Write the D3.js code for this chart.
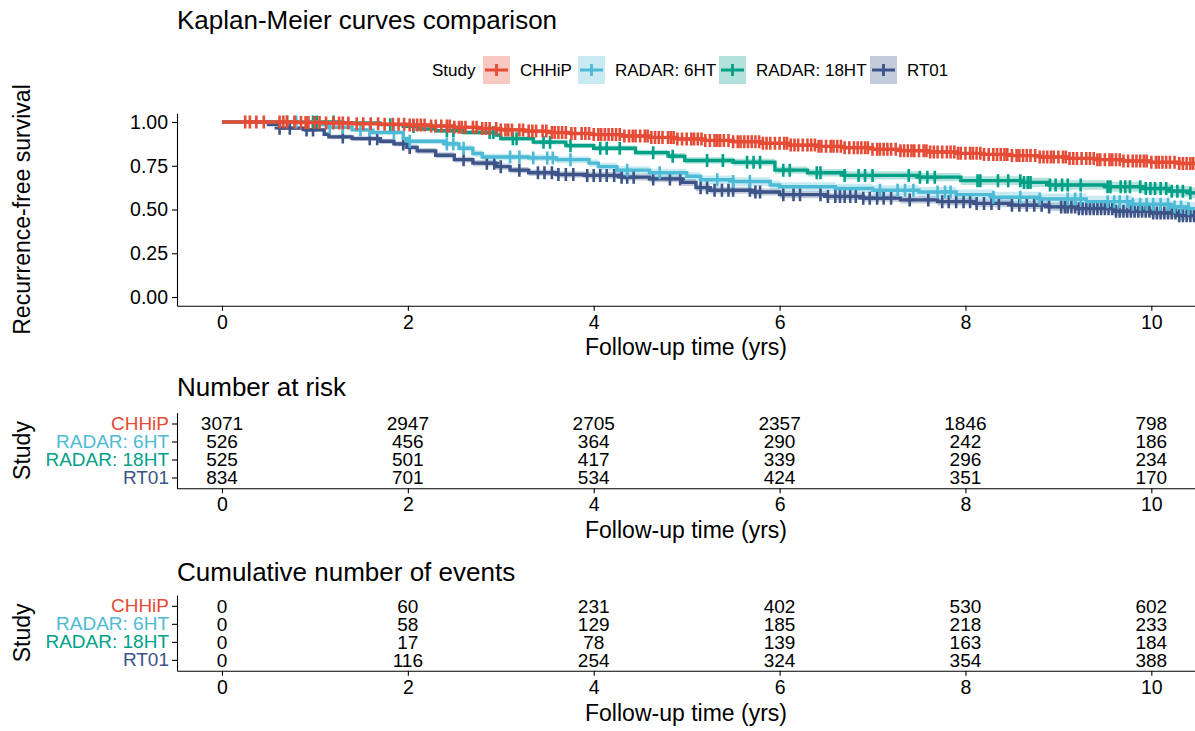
<!DOCTYPE html>
<html>
<head>
<meta charset="utf-8">
<script src="https://cdn.jsdelivr.net/npm/d3@7"></script>
<style>
  body { margin: 0; background: #fff; }
  text { font-family: "Liberation Sans", Arial, sans-serif; }
</style>
</head>
<body>
<div id="chart"></div>
<script>
const studies = ["CHHiP", "RADAR: 6HT", "RADAR: 18HT", "RT01"];
const colors = ["#E64B35", "#4DBBD5", "#00A087", "#3C5488"];
const maxFollow = 10.5;

// Kaplan-Meier steps
const chhipTimes = [0, 0.8, 1.1, 1.4, 1.7, 2.0, 2.25, 2.5, 2.75, 3.0, 3.25, 3.5, 3.75, 4.0, 4.3, 4.6, 4.9, 5.2, 5.5, 5.8, 6.1, 6.4, 6.7, 7.0, 7.3, 7.6, 7.9, 8.2, 8.5, 8.8, 9.1, 9.4, 9.7, 10.0, 10.3];
const chhipSurv = [1, 0.997, 0.994, 0.99, 0.987, 0.983, 0.977, 0.97, 0.963, 0.955, 0.948, 0.94, 0.934, 0.928, 0.92, 0.912, 0.903, 0.895, 0.887, 0.879, 0.868, 0.861, 0.853, 0.844, 0.836, 0.829, 0.821, 0.815, 0.808, 0.8, 0.792, 0.785, 0.777, 0.77, 0.763];
const chhipCi = [0, 0.001, 0.002, 0.002, 0.002, 0.003, 0.003, 0.003, 0.004, 0.004, 0.004, 0.005, 0.005, 0.005, 0.005, 0.006, 0.006, 0.006, 0.006, 0.007, 0.007, 0.007, 0.007, 0.008, 0.008, 0.008, 0.008, 0.008, 0.009, 0.009, 0.009, 0.01, 0.01, 0.01, 0.011];

const rad6Times = [0, 1.05, 1.15, 1.4, 1.6, 1.95, 2.0, 2.4, 2.55, 2.7, 2.8, 3.3, 3.6, 3.95, 4.05, 4.25, 4.6, 5.0, 5.15, 5.5, 5.9, 6.0, 6.6, 7.0, 7.5, 7.9, 8.3, 8.8, 9.3, 9.8, 10.2, 10.4];
const rad6Surv = [1, 0.985, 0.97, 0.955, 0.94, 0.905, 0.89, 0.875, 0.85, 0.82, 0.8, 0.795, 0.785, 0.765, 0.745, 0.725, 0.71, 0.69, 0.67, 0.66, 0.64, 0.63, 0.62, 0.61, 0.6, 0.585, 0.57, 0.56, 0.545, 0.53, 0.515, 0.505];
const rad6Ci = [0, 0.006, 0.009, 0.011, 0.012, 0.014, 0.015, 0.016, 0.017, 0.018, 0.019, 0.019, 0.02, 0.021, 0.022, 0.022, 0.023, 0.024, 0.025, 0.025, 0.026, 0.026, 0.027, 0.028, 0.029, 0.03, 0.031, 0.032, 0.033, 0.034, 0.035, 0.036];

const rad18Times = [0, 1.3, 1.7, 1.95, 2.1, 2.3, 2.6, 2.95, 3.0, 3.35, 3.7, 4.0, 4.45, 4.8, 4.98, 5.5, 5.95, 6.3, 6.7, 7.5, 7.95, 8.6, 8.9, 9.5, 9.9, 10.2, 10.4];
const rad18Surv = [1, 0.995, 0.985, 0.975, 0.96, 0.95, 0.94, 0.925, 0.905, 0.885, 0.865, 0.85, 0.825, 0.805, 0.78, 0.77, 0.725, 0.71, 0.695, 0.685, 0.665, 0.655, 0.64, 0.63, 0.62, 0.605, 0.595];
const rad18Ci = [0, 0.004, 0.006, 0.008, 0.009, 0.01, 0.011, 0.012, 0.013, 0.014, 0.015, 0.016, 0.017, 0.018, 0.019, 0.02, 0.021, 0.022, 0.023, 0.024, 0.025, 0.026, 0.027, 0.028, 0.029, 0.03, 0.031];

const rt01Times = [0, 0.5, 0.62, 0.9, 1.1, 1.15, 1.4, 1.7, 1.85, 2.0, 2.1, 2.3, 2.5, 2.7, 2.95, 3.1, 3.3, 3.6, 3.9, 4.3, 4.6, 4.95, 5.1, 5.25, 5.7, 6.0, 6.5, 6.9, 7.3, 7.7, 8.1, 8.5, 8.9, 9.2, 9.6, 10.0, 10.3];
const rt01Surv = [1, 0.985, 0.965, 0.955, 0.93, 0.915, 0.905, 0.89, 0.875, 0.855, 0.835, 0.81, 0.785, 0.765, 0.745, 0.725, 0.71, 0.7, 0.695, 0.685, 0.675, 0.655, 0.625, 0.61, 0.6, 0.585, 0.575, 0.565, 0.555, 0.545, 0.535, 0.525, 0.515, 0.505, 0.49, 0.48, 0.465];
const rt01Ci = [0, 0.008, 0.01, 0.011, 0.012, 0.013, 0.014, 0.015, 0.015, 0.016, 0.016, 0.017, 0.017, 0.018, 0.018, 0.018, 0.019, 0.019, 0.019, 0.019, 0.019, 0.02, 0.02, 0.02, 0.02, 0.021, 0.021, 0.021, 0.021, 0.022, 0.022, 0.022, 0.023, 0.023, 0.024, 0.025, 0.026];

// censoring times (approximate positions of the + marks)
const chhipCens = [0.25, 0.3, 0.37, 0.45, 0.62, 0.66, 0.7, 0.78, 0.85, 0.9, 0.93, 1.0, 1.05, 1.12, 1.2, 1.26, 1.3, 1.36, 1.45, 1.52, 1.6, 1.68, 1.75, 1.84, 1.9, 1.96, 2.02, 2.06, 2.1, 2.14, 2.18, 2.25, 2.3, 2.36, 2.42, 2.45, 2.5, 2.55, 2.58, 2.62, 2.7, 2.74, 2.8, 2.84, 2.88, 2.95, 3.0, 3.05, 3.08, 3.12, 3.2, 3.24, 3.3, 3.34, 3.38, 3.45, 3.49, 3.55, 3.58, 3.62, 3.66, 3.7, 3.76, 3.8, 3.87, 3.91, 3.95, 4.0, 4.05, 4.08, 4.12, 4.16, 4.2, 4.24, 4.28, 4.33, 4.38, 4.42, 4.45, 4.5, 4.55, 4.58, 4.62, 4.66, 4.7, 4.74, 4.8, 4.83, 4.86, 4.9, 4.95, 5.0, 5.05, 5.08, 5.12, 5.16, 5.2, 5.25, 5.3, 5.33, 5.36, 5.4, 5.45, 5.5, 5.55, 5.58, 5.62, 5.66, 5.7, 5.74, 5.78, 5.82, 5.86, 5.9, 5.95, 6.0, 6.05, 6.08, 6.12, 6.16, 6.2, 6.25, 6.3, 6.34, 6.38, 6.42, 6.45, 6.5, 6.55, 6.58, 6.62, 6.66, 6.7, 6.75, 6.8, 6.84, 6.88, 6.92, 6.95, 7.0, 7.05, 7.08, 7.12, 7.16, 7.2, 7.25, 7.3, 7.34, 7.38, 7.42, 7.45, 7.5, 7.55, 7.58, 7.62, 7.66, 7.7, 7.75, 7.8, 7.84, 7.88, 7.92, 7.95, 8.0, 8.05, 8.08, 8.12, 8.16, 8.2, 8.25, 8.3, 8.34, 8.38, 8.42, 8.45, 8.5, 8.55, 8.58, 8.62, 8.66, 8.7, 8.75, 8.8, 8.84, 8.88, 8.92, 8.95, 9.0, 9.05, 9.08, 9.12, 9.16, 9.2, 9.25, 9.3, 9.34, 9.38, 9.42, 9.45, 9.5, 9.55, 9.58, 9.62, 9.66, 9.7, 9.75, 9.8, 9.84, 9.88, 9.92, 9.95, 10.0, 10.05, 10.08, 10.12, 10.16, 10.2, 10.25, 10.3, 10.34, 10.38, 10.42, 10.45];
const rad6Cens = [0.8, 1.16, 1.3, 1.49, 1.59, 1.85, 2.02, 2.42, 2.49, 2.6, 3.1, 3.2, 3.35, 3.5, 3.56, 3.75, 4.36, 4.71, 5.33, 5.5, 5.68, 7.08, 7.27, 7.35, 7.44, 7.7, 7.78, 7.84, 8.3, 8.59, 8.8, 9.1, 9.18, 9.24, 9.53, 9.6, 9.66, 9.74, 9.8, 9.88, 9.95, 10.02, 10.1, 10.18, 10.25, 10.32, 10.4];
const rad18Cens = [0.7, 0.98, 1.02, 1.2, 1.81, 2.06, 2.42, 2.49, 2.88, 2.92, 3.13, 3.17, 3.46, 3.53, 3.75, 4.07, 4.14, 4.28, 4.64, 4.85, 5.22, 5.39, 5.65, 5.72, 5.79, 6.04, 6.11, 6.4, 6.44, 6.7, 6.85, 6.92, 7.0, 7.39, 7.51, 7.59, 7.67, 8.13, 8.16, 8.35, 8.46, 8.59, 8.63, 8.67, 8.7, 8.91, 8.97, 9.04, 9.1, 9.24, 9.53, 9.56, 9.67, 9.72, 9.77, 9.88, 9.94, 9.99, 10.04, 10.1, 10.16, 10.22, 10.28, 10.34, 10.42];
const rt01Cens = [0.62, 0.73, 0.91, 0.98, 1.3, 1.59, 1.67, 1.95, 2.02, 2.6, 2.85, 2.93, 3.0, 3.2, 3.4, 3.47, 3.55, 3.62, 3.7, 3.78, 3.93, 4.0, 4.07, 4.14, 4.22, 4.3, 4.36, 4.43, 4.64, 4.82, 4.93, 5.15, 5.22, 5.3, 5.38, 5.45, 5.5, 5.68, 5.74, 5.79, 6.04, 6.15, 6.22, 6.44, 6.52, 6.6, 6.65, 6.7, 6.76, 6.82, 6.9, 6.97, 7.05, 7.12, 7.2, 7.4, 7.6, 7.75, 7.82, 7.9, 7.98, 8.05, 8.12, 8.2, 8.28, 8.36, 8.5, 8.58, 8.66, 8.74, 8.82, 8.9, 9.03, 9.07, 9.1, 9.14, 9.18, 9.22, 9.26, 9.3, 9.34, 9.38, 9.42, 9.46, 9.5, 9.54, 9.58, 9.62, 9.66, 9.7, 9.74, 9.78, 9.82, 9.86, 9.9, 9.94, 9.98, 10.02, 10.06, 10.1, 10.14, 10.18, 10.22, 10.26, 10.3, 10.34, 10.38, 10.42, 10.46];

// tables
const tableTimes = [0, 2, 4, 6, 8, 10];
const chhipRisk = [3071, 2947, 2705, 2357, 1846, 798];
const rad6Risk = [526, 456, 364, 290, 242, 186];
const rad18Risk = [525, 501, 417, 339, 296, 234];
const rt01Risk = [834, 701, 534, 424, 351, 170];
const chhipEvents = [0, 60, 231, 402, 530, 602];
const rad6Events = [0, 58, 129, 185, 218, 233];
const rad18Events = [0, 17, 78, 139, 163, 184];
const rt01Events = [0, 116, 254, 324, 354, 388];

const yTicks = [0, 0.25, 0.5, 0.75, 1];

const series = [
  { name: studies[0], color: colors[0], times: chhipTimes, surv: chhipSurv, ci: chhipCi, cens: chhipCens, risk: chhipRisk, events: chhipEvents },
  { name: studies[1], color: colors[1], times: rad6Times, surv: rad6Surv, ci: rad6Ci, cens: rad6Cens, risk: rad6Risk, events: rad6Events },
  { name: studies[2], color: colors[2], times: rad18Times, surv: rad18Surv, ci: rad18Ci, cens: rad18Cens, risk: rad18Risk, events: rad18Events },
  { name: studies[3], color: colors[3], times: rt01Times, surv: rt01Surv, ci: rt01Ci, cens: rt01Cens, risk: rt01Risk, events: rt01Events }
];

const width = 1195, height = 731;
const font = "Liberation Sans, Arial, sans-serif";

const svg = d3.select("#chart").append("svg")
  .attr("width", width).attr("height", height);

const x = d3.scaleLinear().domain([-0.484, 10.47]).range([177, 1195]);
const y = d3.scaleLinear().domain([-0.05, 1.05]).range([305.75, 113.25]);

// title
svg.append("text").attr("x", 177).attr("y", 29)
  .attr("font-size", 26).text("Kaplan-Meier curves comparison");

// legend
const legend = svg.append("g");
legend.append("text").attr("x", 432).attr("y", 76).attr("font-size", 17).text("Study");
const keyX = [483, 578, 719, 870];
series.forEach((s, i) => {
  const g = legend.append("g").attr("transform", `translate(${keyX[i]},56)`);
  g.append("rect").attr("width", 27).attr("height", 28).attr("fill", s.color).attr("opacity", 0.3);
  g.append("path").attr("d", "M2,14H25M13.5,8V20")
    .attr("stroke", s.color).attr("stroke-width", 2.8).attr("fill", "none");
  g.append("text").attr("x", 37).attr("y", 20).attr("font-size", 17).text(s.name);
});

// main panel
svg.append("defs").append("clipPath").attr("id", "clip")
  .append("rect").attr("x", 177).attr("y", 100).attr("width", 1018).attr("height", 206);

const plot = svg.append("g").attr("clip-path", "url(#clip)");

const stepData = s => s.times.map((t, i) => ({ t, v: s.surv[i], h: s.ci[i] }))
  .concat([{ t: maxFollow, v: s.surv[s.surv.length - 1], h: s.ci[s.ci.length - 1] }]);

const area = d3.area().curve(d3.curveStepAfter)
  .x(d => x(d.t)).y0(d => y(d.v - d.h)).y1(d => y(Math.min(1, d.v + d.h)));
const line = d3.line().curve(d3.curveStepAfter).x(d => x(d.t)).y(d => y(d.v));

// draw in reverse so CHHiP is on top
series.slice().reverse().forEach(s => {
  plot.append("path").datum(stepData(s)).attr("d", area)
    .attr("fill", s.color).attr("opacity", 0.3);
});
series.slice().reverse().forEach(s => {
  const d = stepData(s);
  plot.append("path").datum(d).attr("d", line)
    .attr("fill", "none").attr("stroke", s.color).attr("stroke-width", 3.4);
  const survAt = t => s.surv[Math.max(0, d3.bisectRight(s.times, t) - 1)];
  plot.append("g").selectAll("path").data(s.cens).join("path")
    .attr("d", t => {
      const px = x(t), py = y(survAt(t));
      return `M${px},${py - 6.5}V${py + 6.5}M${px - 5},${py}H${px + 5}`;
    })
    .attr("stroke", s.color).attr("stroke-width", 2.6).attr("fill", "none");
});

function styleAxis(g, size) {
  g.selectAll("path.domain").attr("stroke", "#000").attr("stroke-width", 1.1);
  g.selectAll(".tick line").attr("stroke", "#000").attr("stroke-width", 1.1);
  g.selectAll(".tick text").attr("fill", "#000").attr("font-size", size).attr("font-family", font);
}

const xAxis = (yPos) => {
  const g = svg.append("g").attr("transform", `translate(0,${yPos})`)
    .call(d3.axisBottom(x).tickValues(tableTimes).tickFormat(d3.format("d")).tickSize(5).tickSizeOuter(0).tickPadding(4));
  styleAxis(g, 19.5);
  return g;
};

xAxis(305.75);
const yAx = svg.append("g").attr("transform", "translate(177,0)")
  .call(d3.axisLeft(y).tickValues(yTicks).tickFormat(d3.format(".2f")).tickSize(5).tickSizeOuter(0).tickPadding(4));
styleAxis(yAx, 19.5);
svg.append("text").attr("x", 686).attr("y", 355).attr("text-anchor", "middle")
  .attr("font-size", 23).text("Follow-up time (yrs)");
svg.append("text").attr("transform", "translate(30,209.5) rotate(-90)")
  .attr("text-anchor", "middle").attr("font-size", 23).text("Recurrence-free survival");

// tables
function table(top, bottom, title, titleY, key) {
  svg.append("text").attr("x", 177).attr("y", titleY).attr("font-size", 26).text(title);
  const yRow = d3.scalePoint().domain(studies).range([top, bottom]).padding(0.6);
  const g = svg.append("g");
  series.forEach(s => {
    g.append("g").selectAll("text").data(s[key]).join("text")
      .attr("x", (v, i) => x(tableTimes[i]))
      .attr("y", yRow(s.name))
      .attr("dy", "0.36em")
      .attr("text-anchor", "middle").attr("font-size", 19)
      .text(v => v);
  });
  const ya = svg.append("g").attr("transform", "translate(177,0)")
    .call(d3.axisLeft(yRow).tickSize(5).tickSizeOuter(0).tickPadding(3));
  styleAxis(ya, 19);
  ya.selectAll(".tick text").attr("fill", (d, i) => colors[i]);
  xAxis(bottom);
  svg.append("text").attr("x", 686).attr("y", bottom + 50).attr("text-anchor", "middle")
    .attr("font-size", 23).text("Follow-up time (yrs)");
  svg.append("text").attr("transform", `translate(30,${(top + bottom) / 2}) rotate(-90)`)
    .attr("text-anchor", "middle").attr("font-size", 23).text("Study");
}

table(412.7, 488.3, "Number at risk", 396, "risk");
table(595, 670.7, "Cumulative number of events", 581, "events");
</script>
</body>
</html>
